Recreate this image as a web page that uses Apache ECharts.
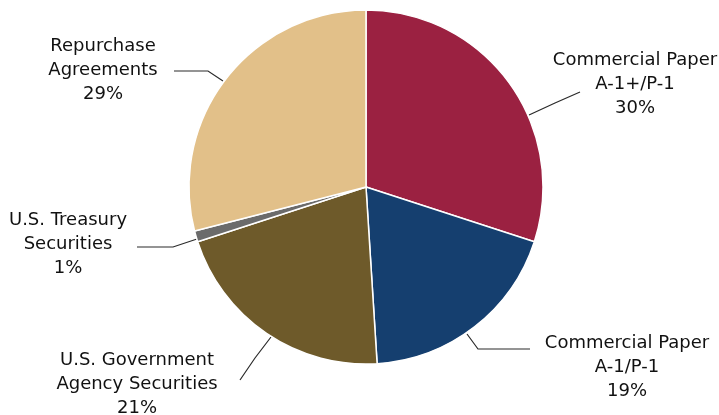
<!DOCTYPE html>
<html>
<head>
<meta charset="utf-8">
<script src="https://cdn.jsdelivr.net/npm/echarts@6/dist/echarts.min.js"></script>
<style>
html, body { margin: 0; padding: 0; background: #fff; }
#chart { width: 719px; height: 415px; }
</style>
</head>
<body>
<div id="chart"></div>
<script>
// 投资组合构成
const categories = [
    'Commercial Paper\nA-1+/P-1',
    'Commercial Paper\nA-1/P-1',
    'U.S. Government\nAgency Securities',
    'U.S. Treasury\nSecurities',
    'Repurchase\nAgreements'
];
const shares = [30, 19, 21, 1, 29];
const colors = ['#9B2141', '#153F6F', '#6E5A2A', '#6B6B6B', '#E2C089'];

// 标签中心位置 + 引导线折点（手动摆放）
const labelSpots = [
    { x: 635, y: 84, line: [[529, 115], [555, 103], [580, 92]] },
    { x: 627, y: 367, line: [[467, 334], [478, 349], [530, 349]] },
    { x: 137, y: 384, line: [[271, 337], [255, 358], [240, 380]] },
    { x: 68, y: 244, line: [[197, 239], [173, 247], [137, 247]] },
    { x: 103, y: 70, line: [[223, 81], [208, 71], [174, 71]] }
];

const chart = echarts.init(document.getElementById('chart'));
const seriesData = categories.map((name, i) => ({
    name: name,
    value: shares[i],
    itemStyle: { color: colors[i] }
}));

const option = {
    animation: false,
    series: [
        {
            type: 'pie',
            center: [366, 187],
            radius: 177,
            startAngle: 90,
            clockwise: true,
            itemStyle: {
                borderColor: '#fff',
                borderWidth: 1.5
            },
            label: {
                show: true,
                position: 'outside',
                color: '#111',
                fontFamily: 'DejaVu Sans',
                fontSize: 18,
                lineHeight: 24,
                align: 'center',
                overflow: 'none',
                edgeDistance: 0,
                formatter: (p) => p.name + '\n' + p.value + '%'
            },
            labelLine: {
                show: true,
                lineStyle: { color: '#2a2a2a', width: 1.2 }
            },
            labelLayout: (params) => {
                const s = labelSpots[params.dataIndex];
                return {
                    x: s.x,
                    y: s.y,
                    align: 'center',
                    verticalAlign: 'middle',
                    labelLinePoints: s.line
                };
            },
            data: seriesData
        }
    ]
};
chart.setOption(option);
window.addEventListener('resize', () => {
    chart.resize();
});
</script>
</body>
</html>
